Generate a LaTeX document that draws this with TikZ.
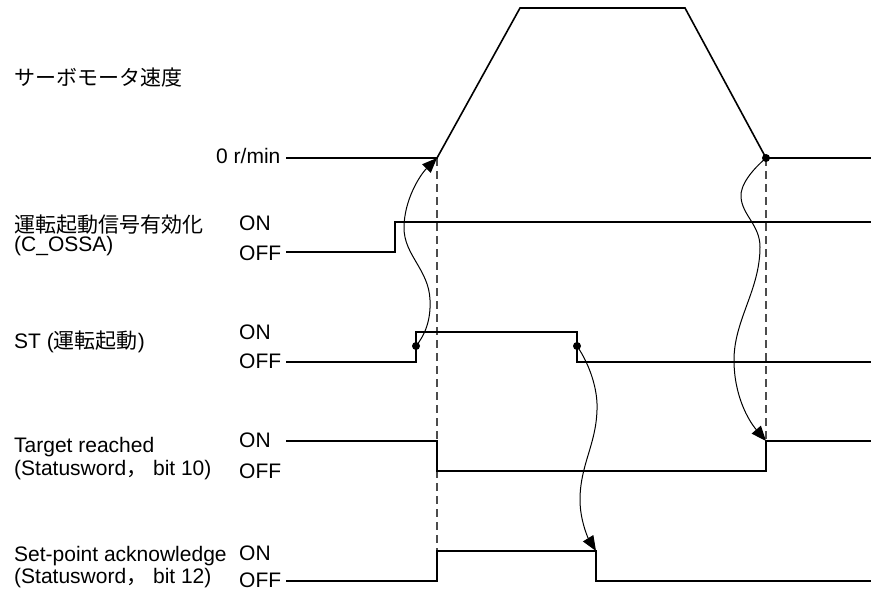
\documentclass[tikz,border=0pt]{standalone}
\usepackage{fontspec}
\setmainfont{Liberation Sans}
\newfontfamily\cjk{Noto Sans CJK JP}
\usetikzlibrary{arrows.meta}
\begin{document}
\begin{tikzpicture}[x=1pt,y=-1pt,
 lbl/.style={anchor=base west, inner sep=0pt, font=\fontsize{21}{22}\selectfont},
 sig/.style={line width=1.6pt, line join=miter},
 guide/.style={line width=1.1pt, draw=black!70, dash pattern=on 8pt off 5pt},
 cause/.style={line width=1pt, -{Triangle[length=15pt,width=12pt]}},
 dot/.style={circle, fill, inner sep=0pt, minimum size=8pt}]
\useasboundingbox (0,0) rectangle (871,590);

% ---- labels ----
\node[lbl] (tspeed) at (14,85) {\cjk サーボモータ速度};
\node[lbl] (tzero) at (216,163) {0 r/min};

\node[lbl] (tossa1) at (14,232) {\cjk 運転起動信号有効化};
\node[lbl] (tossa2) at (14,251) {(C\_OSSA)};
\node[lbl] (ossaon) at (239,230) {ON};
\node[lbl] (ossaoff) at (239,260) {OFF};

\node[lbl] (tst) at (14,348) {ST ({\cjk 運転起動})};
\node[lbl] (ston) at (239,339) {ON};
\node[lbl] (stoff) at (239,368) {OFF};

\node[lbl] (ttr1) at (14,452) {Target reached};
\node[lbl] (ttr2) at (14,475) {(Statusword{\cjk ，} bit 10)};
\node[lbl] (tron) at (239,447) {ON};
\node[lbl] (troff) at (239,478) {OFF};

\node[lbl] (tsp1) at (14,561) {Set-point acknowledge};
\node[lbl] (tsp2) at (14,583) {(Statusword{\cjk ，} bit 12)};
\node[lbl] (spon) at (239,560) {ON};
\node[lbl] (spoff) at (239,587) {OFF};

% ---- key points ----
\coordinate (sa) at (437,158);
\coordinate (sd) at (766,158);
\coordinate (trup) at (766,441);
\coordinate (spdown) at (596,551);
\coordinate (sprise) at (437,551);

% ---- guides ----
\draw[guide] (sa) -- (sprise);
\draw[guide] (sd) -- (trup);

% ---- signals ----
\draw[sig] (286,158) -- (sa) -- (520,8) -- (685,8) -- (sd) -- (871,158);
\draw[sig] (286,252) -- (395,252) -- (395,222) -- (871,222);
\draw[sig] (286,362) -- (416,362) -- (416,332) -- (577,332) -- (577,362) -- (871,362);
\draw[sig] (286,441) -- (437,441) -- (437,471) -- (766,471) -- (trup) -- (871,441);
\draw[sig] (286,581) -- (437,581) -- (sprise) -- (spdown) -- (596,581) -- (871,581);

% ---- dots ----
\node[dot] (d1) at (416,346) {};
\node[dot] (d2) at (577,346) {};
\node[dot] (d3) at (sd) {};

% ---- cause arrows ----
\draw[cause] (d1.center) .. controls (425,335) and (431,320) .. (430,300)
  .. controls (429,270) and (404,255) .. (404,228)
  .. controls (404,200) and (420,175) .. (sa);
\draw[cause] (d2.center) .. controls (590,365) and (598,390) .. (597,410)
  .. controls (596,445) and (580,465) .. (580,500)
  .. controls (580,520) and (588,538) .. (spdown);
\draw[cause] (d3.center) .. controls (752,170) and (740,185) .. (741,197)
  .. controls (742,215) and (760,225) .. (760,247)
  .. controls (760,290) and (734,320) .. (734,360)
  .. controls (734,395) and (748,420) .. (trup);
\end{tikzpicture}
\end{document}
